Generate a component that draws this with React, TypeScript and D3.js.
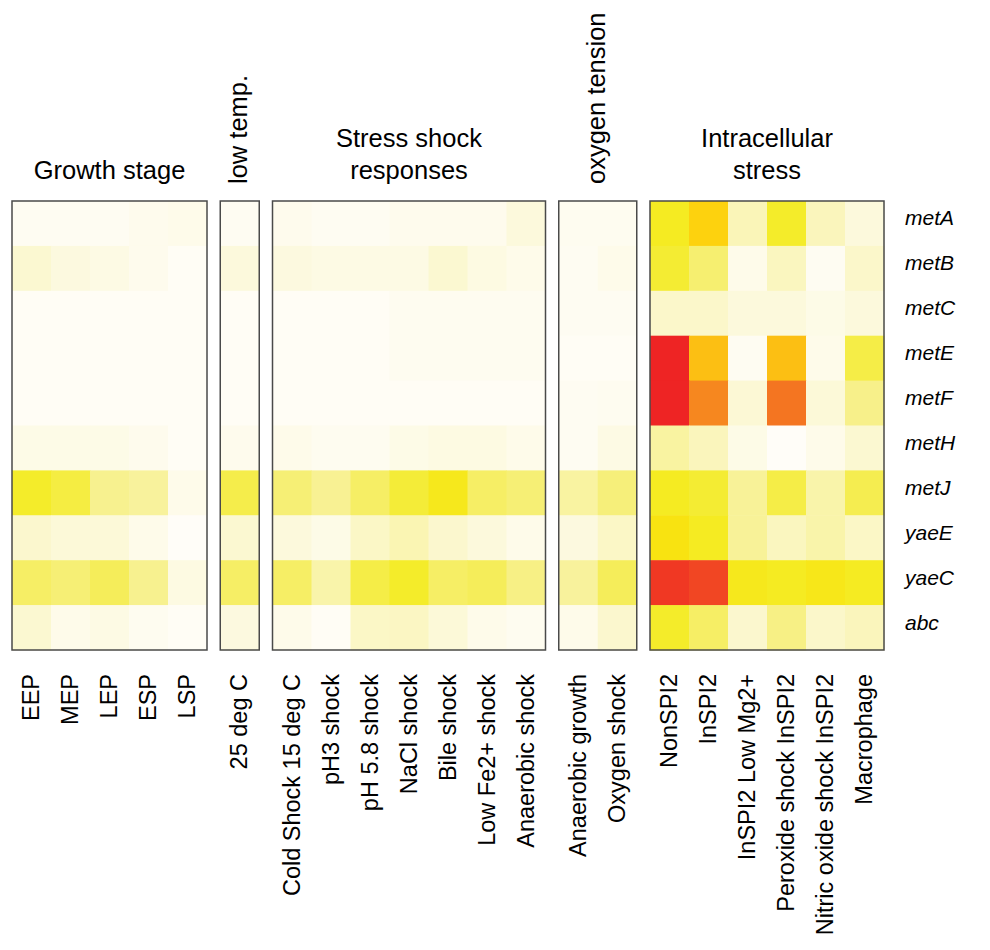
import React from "react";
import * as d3 from "d3";

const genes = ["metA", "metB", "metC", "metE", "metF", "metH", "metJ", "yaeE", "yaeC", "abc"];

const groupTitles = [["Growth stage"], ["low temp."], ["Stress shock", "responses"], ["oxygen tension"], ["Intracellular", "stress"]];

const growthConds = ["EEP", "MEP", "LEP", "ESP", "LSP"];
const lowTempConds = ["25 deg C"];
const stressConds = ["Cold Shock 15 deg C", "pH3 shock", "pH 5.8 shock", "NaCl shock", "Bile shock", "Low Fe2+ shock", "Anaerobic shock"];
const oxygenConds = ["Anaerobic growth", "Oxygen shock"];
const intraConds = ["NonSPI2", "InSPI2", "InSPI2 Low Mg2+", "Peroxide shock InSPI2", "Nitric oxide shock InSPI2", "Macrophage"];

// values per gene (rows) x condition (cols), relative expression 0..1
const growthValues = [
  [0.02, 0.02, 0.02, 0.04, 0.05],
  [0.13, 0.09, 0.07, 0.04, 0.01],
  [0.01, 0.01, 0.01, 0.01, 0.01],
  [0.01, 0.01, 0.01, 0.01, 0.01],
  [0.01, 0.01, 0.01, 0.01, 0.01],
  [0.06, 0.06, 0.06, 0.04, 0.01],
  [0.49, 0.44, 0.29, 0.26, 0.05],
  [0.14, 0.11, 0.11, 0.05, 0.0],
  [0.37, 0.34, 0.39, 0.29, 0.08],
  [0.13, 0.05, 0.07, 0.03, 0.01],
];
const lowTempValues = [[0.02], [0.1], [0.01], [0.01], [0.01], [0.04], [0.42], [0.13], [0.37], [0.09]];
const stressValues = [
  [0.04, 0.02, 0.02, 0.04, 0.04, 0.04, 0.1],
  [0.09, 0.07, 0.07, 0.07, 0.13, 0.08, 0.05],
  [0.01, 0.01, 0.01, 0.03, 0.03, 0.03, 0.03],
  [0.01, 0.01, 0.01, 0.03, 0.03, 0.03, 0.03],
  [0.01, 0.01, 0.01, 0.01, 0.01, 0.01, 0.01],
  [0.05, 0.03, 0.03, 0.06, 0.08, 0.08, 0.05],
  [0.34, 0.28, 0.37, 0.46, 0.53, 0.37, 0.34],
  [0.1, 0.06, 0.16, 0.21, 0.14, 0.1, 0.05],
  [0.37, 0.23, 0.43, 0.49, 0.37, 0.39, 0.31],
  [0.05, 0.01, 0.16, 0.17, 0.11, 0.05, 0.03],
];
const oxygenValues = [
  [0.03, 0.03],
  [0.02, 0.05],
  [0.02, 0.02],
  [0.01, 0.01],
  [0.02, 0.03],
  [0.02, 0.07],
  [0.25, 0.33],
  [0.09, 0.16],
  [0.26, 0.39],
  [0.05, 0.14],
];
const intraValues = [
  [0.51, 0.66, 0.2, 0.49, 0.19, 0.1],
  [0.47, 0.35, 0.05, 0.18, 0.02, 0.15],
  [0.15, 0.15, 0.1, 0.1, 0.06, 0.1],
  [1.0, 0.73, 0.02, 0.73, 0.05, 0.43],
  [1.0, 0.85, 0.12, 0.88, 0.11, 0.3],
  [0.25, 0.19, 0.06, 0.0, 0.05, 0.13],
  [0.51, 0.47, 0.27, 0.43, 0.23, 0.41],
  [0.57, 0.51, 0.27, 0.18, 0.23, 0.16],
  [0.97, 0.95, 0.53, 0.51, 0.54, 0.51],
  [0.49, 0.37, 0.14, 0.31, 0.15, 0.19],
];

const colorStops = [0, 0.1, 0.2, 0.3, 0.4, 0.5, 0.58, 0.66, 0.74, 0.86, 1.0];
const colorRange = ["#fffdf8", "#fcf9dc", "#faf5b8", "#f7f08a", "#f5ed55", "#f4ec25", "#f9e20e", "#fdd20e", "#fcbc14", "#f58220", "#ee2424"];

const panels = [
  { conds: growthConds, values: growthValues },
  { conds: lowTempConds, values: lowTempValues },
  { conds: stressConds, values: stressValues },
  { conds: oxygenConds, values: oxygenValues },
  { conds: intraConds, values: intraValues },
];

const FONT = "'Liberation Sans', Arial, Helvetica, sans-serif";

export default function App() {
  const W = 990, H = 950;
  const top = 201, bottom = 650;
  const left = 12, cellW = 39, gap = 13.25;
  const color = d3.scaleLinear<string>().domain(colorStops).range(colorRange).clamp(true);
  const y = d3.scaleBand<string>().domain(genes).range([top, bottom]).padding(0);

  let cum = 0;
  const layout = panels.map((p, i) => {
    const x0 = left + cum * cellW + i * gap;
    const x1 = x0 + p.conds.length * cellW;
    cum += p.conds.length;
    const x = d3.scaleBand<string>().domain(p.conds).range([x0, x1]).padding(0);
    return { ...p, x, x0, x1 };
  });

  return (
    <svg width={W} height={H} style={{ position: "absolute", left: 0, top: 0, background: "#fff" }} fontFamily={FONT}>
      {layout.map((p, pi) => (
        <g key={pi}>
          {genes.map((g, gi) =>
            p.conds.map((c, ci) => (
              <rect
                key={g + c}
                x={p.x(c)!}
                y={y(g)!}
                width={p.x.bandwidth() + 0.5}
                height={y.bandwidth() + 0.5}
                fill={color(p.values[gi][ci])}
              />
            ))
          )}
          <rect x={p.x0} y={top} width={p.x1 - p.x0} height={bottom - top} fill="none" stroke="#4a4a4a" strokeWidth={1.5} />
          {p.conds.map((c) => {
            const cx = p.x(c)! + p.x.bandwidth() / 2;
            return (
              <text
                key={c}
                transform={`translate(${cx + 7.5},674) rotate(-90)`}
                textAnchor="end"
                fontSize={23.5}
                fill="#000"
              >
                {c}
              </text>
            );
          })}
        </g>
      ))}
      {/* group titles */}
      {layout.map((p, pi) => {
        const cx = (p.x0 + p.x1) / 2;
        const lines = groupTitles[pi];
        if (pi === 1 || pi === 3) {
          return (
            <text key={pi} transform={`translate(${cx + 7},184) rotate(-90)`} textAnchor="start" fontSize={25.5} fill="#000">
              {lines[0]}
            </text>
          );
        }
        return (
          <text key={pi} textAnchor="middle" fontSize={25.5} fill="#000">
            {lines.map((l, li) => (
              <tspan key={li} x={cx} y={179 - (lines.length - 1 - li) * 32}>
                {l}
              </tspan>
            ))}
          </text>
        );
      })}
      {genes.map((g) => (
        <text key={g} x={905} y={y(g)! + y.bandwidth() / 2 + 2} fontSize={21} fontStyle="italic" fill="#000">
          {g}
        </text>
      ))}
    </svg>
  );
}
